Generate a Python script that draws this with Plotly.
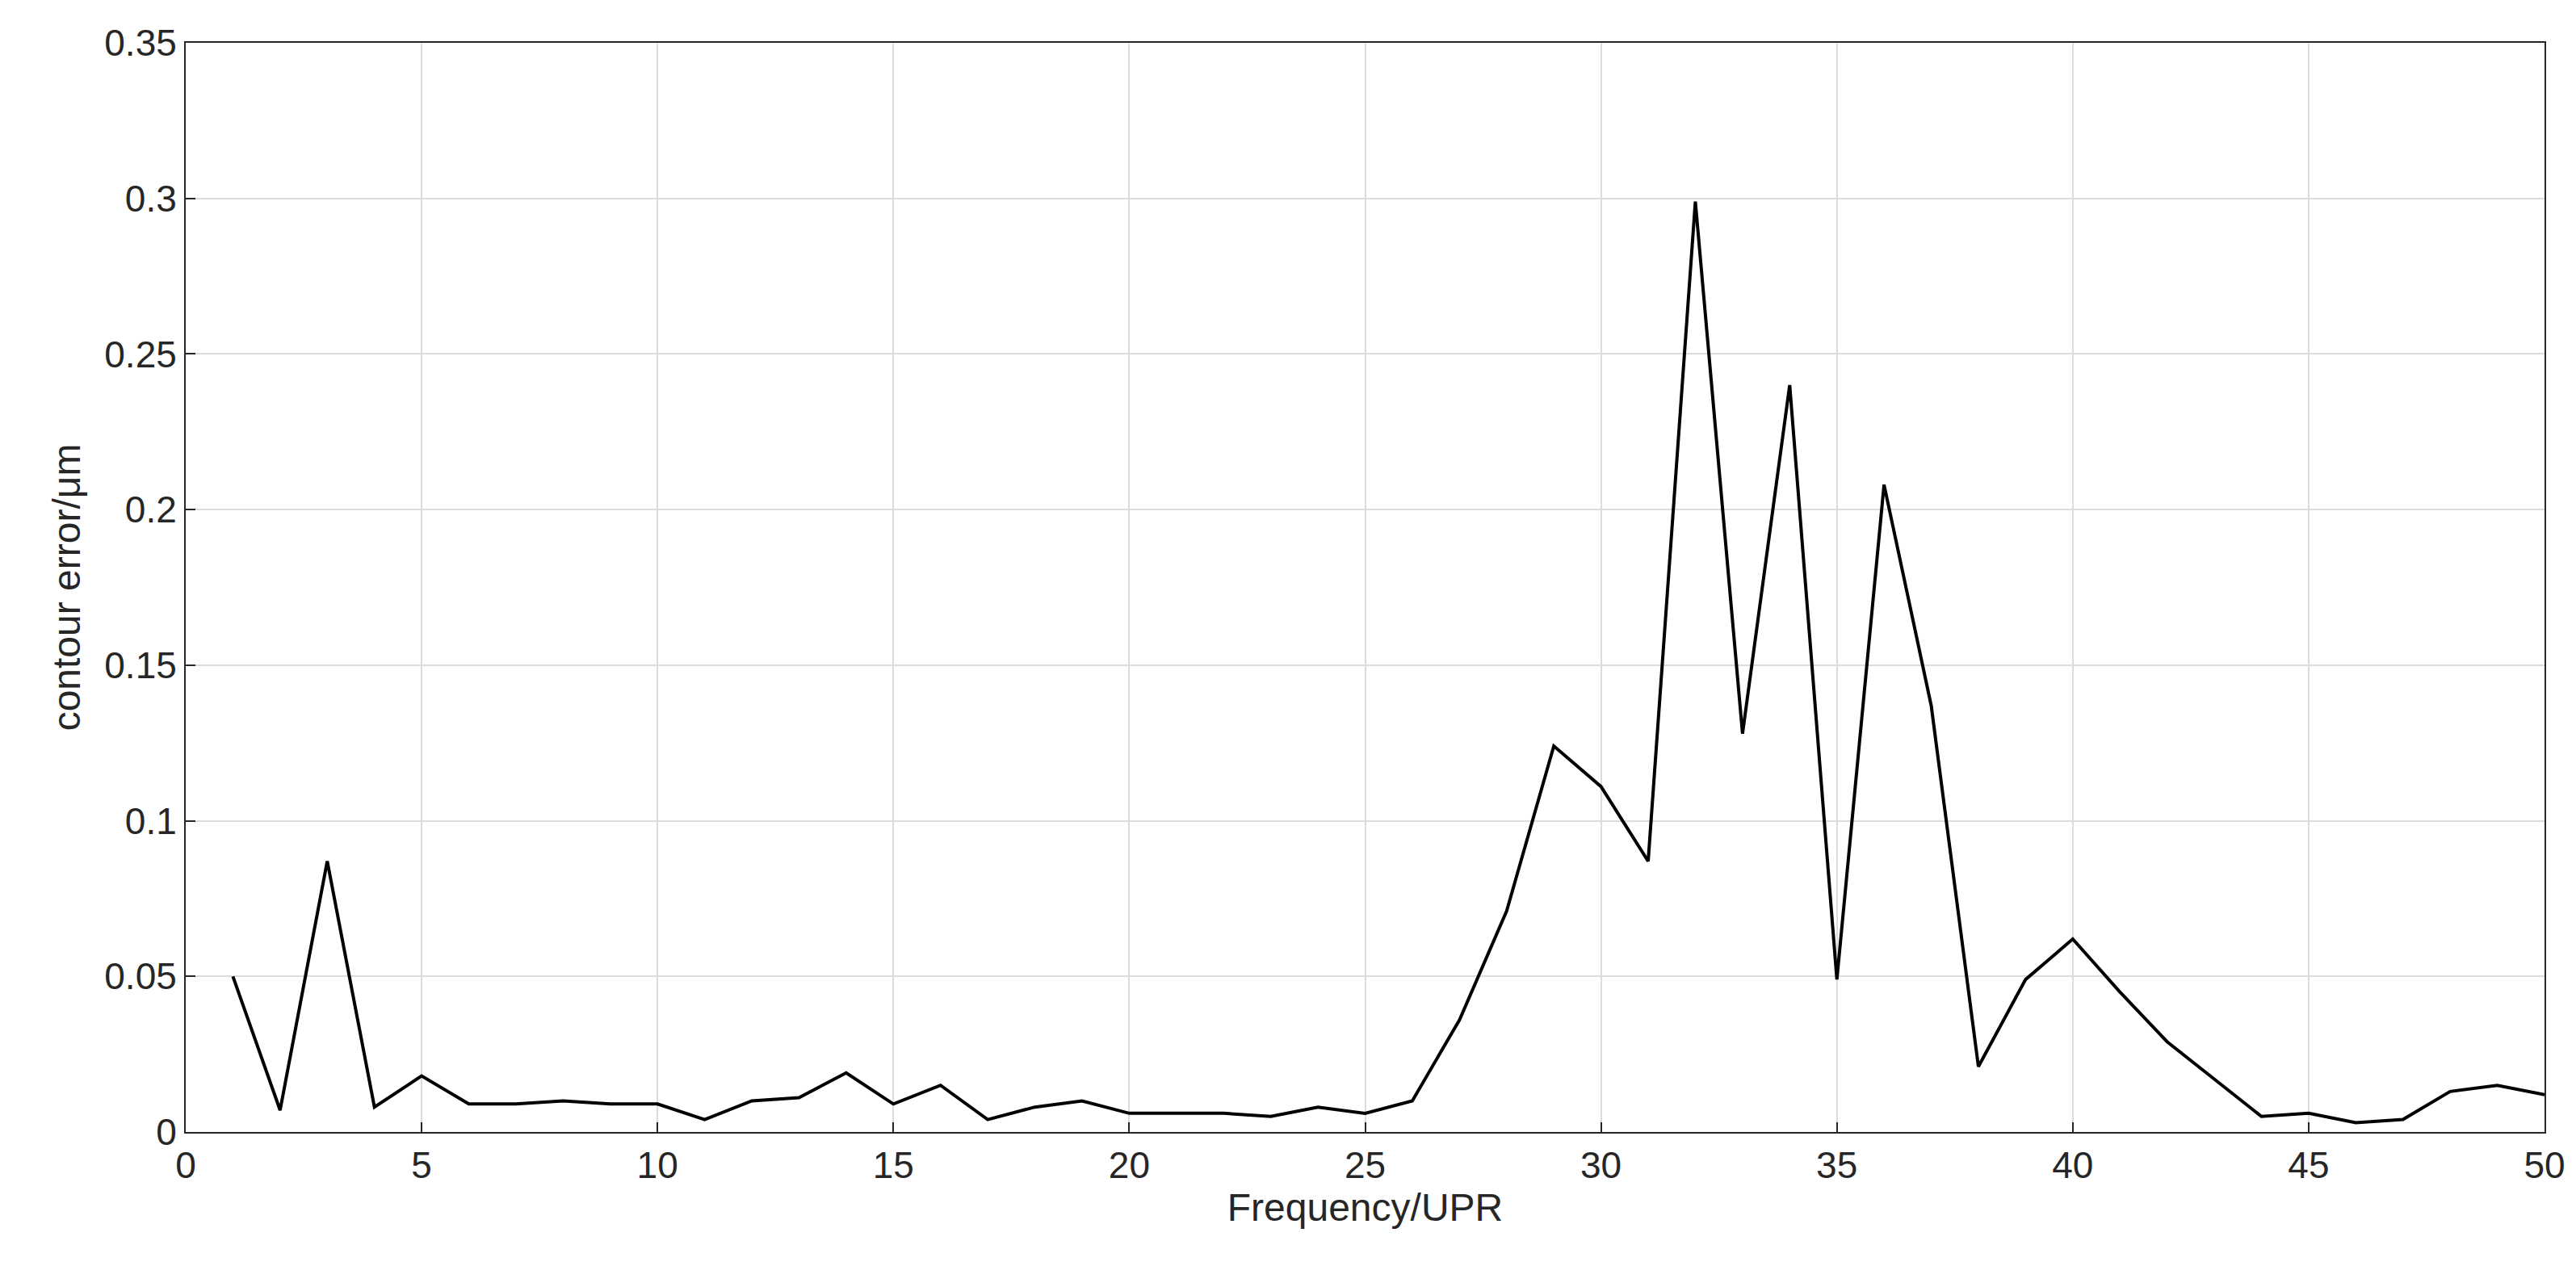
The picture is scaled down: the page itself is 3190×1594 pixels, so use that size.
import plotly.graph_objects as go

freq = list(range(1, 51))
error = [0.050, 0.007, 0.087, 0.008, 0.018, 0.009, 0.009, 0.010, 0.009, 0.009,
         0.004, 0.010, 0.011, 0.019, 0.009, 0.015, 0.004, 0.008, 0.010, 0.006,
         0.006, 0.006, 0.005, 0.008, 0.006, 0.010, 0.036, 0.071, 0.124, 0.111,
         0.087, 0.299, 0.128, 0.240, 0.049, 0.208, 0.137, 0.021, 0.049, 0.062,
         0.045, 0.029, 0.017, 0.005, 0.006, 0.003, 0.004, 0.013, 0.015, 0.012]

fig = go.Figure(go.Scatter(x=freq, y=error, mode="lines",
                           line=dict(color="black", width=4)))

axis_style = dict(showgrid=True, gridcolor="#dcdcdc", gridwidth=2,
                  showline=True, linecolor="#262626", linewidth=2, mirror=True,
                  ticks="inside", ticklen=12, tickwidth=2, tickcolor="#262626",
                  zeroline=False, tickfont=dict(size=46, color="#262626"),
                  title_font=dict(size=48, color="#262626"))

fig.update_xaxes(range=[0, 50], dtick=5, title_text="Frequency/UPR",
                 title_standoff=6, **axis_style)
fig.update_yaxes(range=[0, 0.35], dtick=0.05, title_text="contour error/μm",
                 tickformat="~g", title_standoff=14, **axis_style)

fig.update_layout(width=3190, height=1594, showlegend=False,
                  plot_bgcolor="white", paper_bgcolor="white",
                  font=dict(family="Liberation Sans, Arial"),
                  margin=dict(l=222, r=47, t=45, b=200))

fig.write_html("out.html")
